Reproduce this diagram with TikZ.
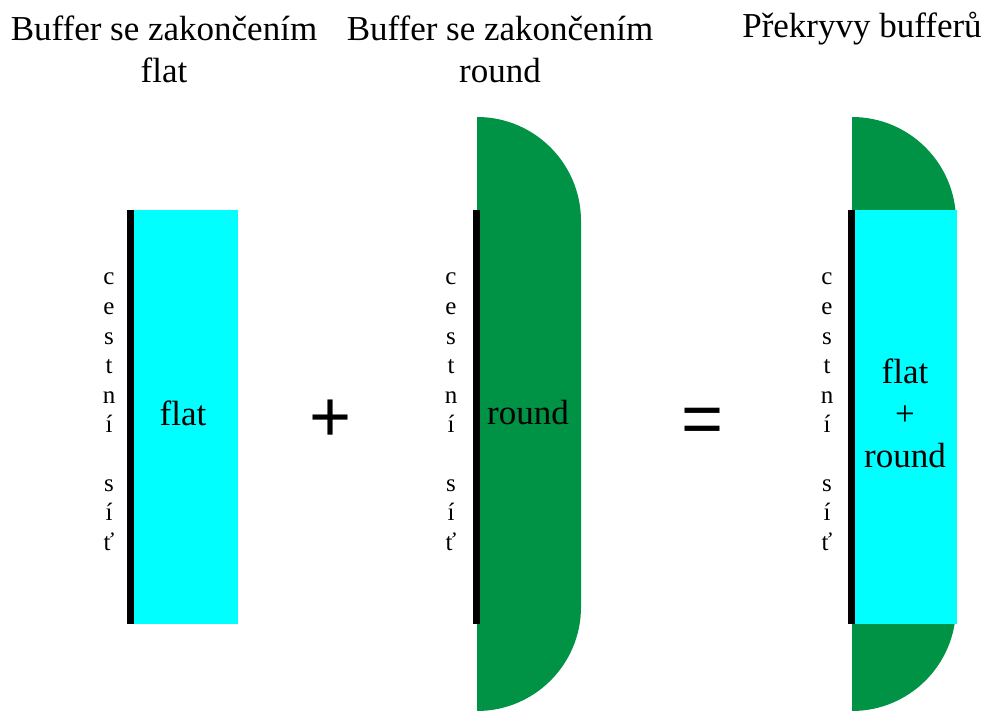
\documentclass[tikz,border=0pt]{standalone}
\usepackage{fontspec}
\setmainfont{Liberation Serif}
\newfontfamily\plusfont{Liberation Sans}
\definecolor{bufgreen}{RGB}{0,146,69}
\definecolor{bufcyan}{RGB}{0,255,255}
\tikzset{
 x=1pt,y=-1pt,
 title/.style={font=\fontsize{35}{42}\selectfont,align=center,inner sep=0pt,text=black},
 lab/.style={font=\fontsize{35}{42}\selectfont,align=center,inner sep=0pt,text=black},
 sit/.style={font=\fontsize{25}{25}\selectfont,inner sep=0pt,anchor=base,text=black},
 road/.style={fill=black,draw=none},
 sym/.style={font=\plusfont\fontsize{72}{72}\selectfont,inner sep=0pt,text=black}
}
\newcommand{\silnice}[1]{%
 \foreach \t/\yy in {c/284,e/314,s/344,t/373,n/403,í/432,s/491,í/520,ť/550}{
  \node[sit] at (#1,\yy) {\t};}}
\begin{document}
\begin{tikzpicture}
\useasboundingbox (0,0) rectangle (985,711);
\node[title] (t1) at (164,49) {Buffer se zakončením\\flat};
\node[title] (t2) at (500,49) {Buffer se zakončením\\round};
\node[title] (t3) at (862,29) {Překryvy bufferů};
% flat
\fill[bufcyan] (131,210) rectangle (238,624);
\fill[road] (127,210) rectangle (134,624);
\silnice{109}
\node[lab] (l1) at (183,413) {flat};
\node[sym] (plus) at (331,421) {+};
% round
\fill[bufgreen] (477,117) arc[start angle=-90,end angle=0,radius=104] -- (581,607) arc[start angle=0,end angle=90,radius=104] -- cycle;
\fill[road] (473,210) rectangle (480,624);
\silnice{451}
\node[lab] (l2) at (528,413) {round};
\node[sym] (eq) at (703,426) {=};
% overlay
\fill[bufgreen] (852,117) arc[start angle=-90,end angle=0,radius=104] -- (956,607) arc[start angle=0,end angle=90,radius=104] -- cycle;
\fill[bufcyan] (852,210) rectangle (957,624);
\fill[road] (848,210) rectangle (855,624);
\silnice{827}
\node[lab] (l3) at (905,413) {flat\\+\\round};
\end{tikzpicture}
\end{document}
